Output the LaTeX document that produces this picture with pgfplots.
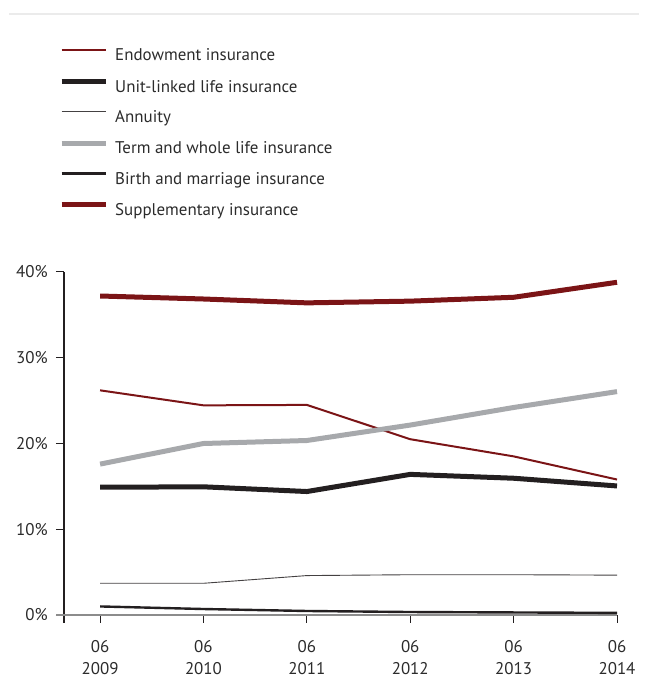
\documentclass[border=0pt]{standalone}
\usepackage{fontspec}
\setmainfont{PT Sans}
\usepackage{pgfplots}
\pgfplotsset{compat=1.18}

\definecolor{darkred}{HTML}{7B1416}
\definecolor{inkblack}{HTML}{231F20}
\definecolor{lightgrey}{HTML}{A7A9AC}
\definecolor{rulegrey}{HTML}{EBEBEB}
\definecolor{zerogrey}{HTML}{8C8C8C}
\definecolor{labelgrey}{HTML}{2B2B2B}

\begin{document}
\begin{tikzpicture}[x=1bp,y=1bp]
\path[use as bounding box] (0,0) rectangle (647,696);
\draw[rulegrey, line width=1.2bp] (9,682) -- (639,682);
\begin{axis}[
  at={(64bp,73bp)}, anchor=south west,
  scale only axis,
  width=553bp, height=351bp,
  xmin=-0.349, xmax=5,
  ymin=-0.93, ymax=40,
  clip=false,
  axis x line=bottom, axis y line=left,
  x axis line style={draw=none, -},
  y axis line style={inkblack, line width=1.1bp, -},
  xtick={0,1,2,3,4,5},
  xticklabels={{06\\2009},{06\\2010},{06\\2011},{06\\2012},{06\\2013},{06\\2014}},
  xtick align=inside,
  ytick={0,10,20,30,40},
  yticklabels={0\%,10\%,20\%,30\%,40\%},
  ytick align=outside,
  major tick length=8bp,
  tick style={inkblack, line width=1bp},
  x tick label style={align=center, inner sep=0pt, yshift=-17bp,
    font=\fontsize{17}{22}\selectfont, text=labelgrey},
  y tick label style={inner sep=0pt, xshift=-8bp,
    font=\fontsize{17}{20}\selectfont, text=labelgrey},
  legend cell align=left,
  legend style={draw=none, fill=none, at={(-0.009,1.6365)}, anchor=north west,
    inner sep=0pt, row sep=14.7bp, column sep=7bp,
    nodes={inner sep=0pt, text height=12bp, text depth=3.5bp, text=labelgrey,
      font=\fontsize{17}{20}\selectfont}},
  legend image code/.code={\draw[#1] (0bp,6.5bp) -- (44bp,6.5bp);},
]
% zero line
\draw[zerogrey, line width=1.6bp] (axis cs:-0.426,0) -- (axis cs:5,0);

\addplot[darkred, line width=2bp] coordinates
  {(0,26.2) (1,24.45) (2,24.5) (3,20.5) (4,18.5) (5,15.8)};
\addlegendentry{Endowment insurance}
\addplot[inkblack, line width=5bp] coordinates
  {(0,14.9) (1,14.95) (2,14.4) (3,16.4) (4,15.95) (5,15.05)};
\addlegendentry{Unit-linked life insurance}
\addplot[inkblack!85, line width=0.9bp] coordinates
  {(0,3.7) (1,3.7) (2,4.6) (3,4.7) (4,4.7) (5,4.65)};
\addlegendentry{Annuity}
\addplot[lightgrey, line width=5bp] coordinates
  {(0,17.6) (1,20.0) (2,20.35) (3,22.15) (4,24.2) (5,26.05)};
\addlegendentry{Term and whole life insurance}
\addplot[inkblack, line width=2.4bp] coordinates
  {(0,1.0) (1,0.7) (2,0.47) (3,0.35) (4,0.3) (5,0.25)};
\addlegendentry{Birth and marriage insurance}
\addplot[darkred, line width=5bp] coordinates
  {(0,37.2) (1,36.85) (2,36.4) (3,36.6) (4,37.05) (5,38.8)};
\addlegendentry{Supplementary insurance}
\end{axis}
\end{tikzpicture}
\end{document}
